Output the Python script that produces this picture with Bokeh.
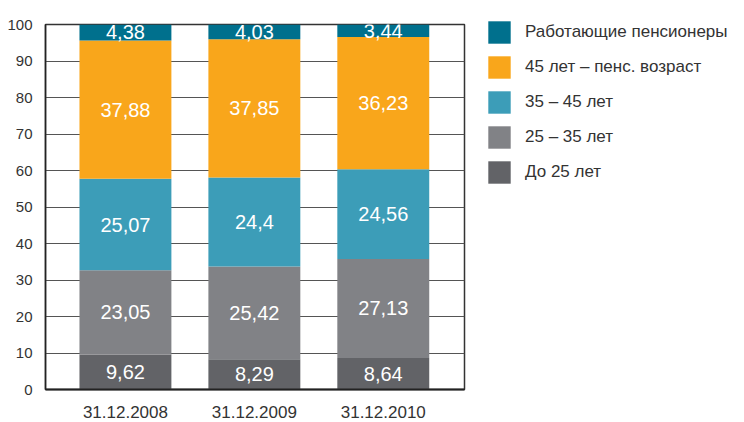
from bokeh.plotting import figure
from bokeh.models import ColumnDataSource, Legend, LegendItem, FixedTicker, Range1d
from bokeh.core.properties import value
from bokeh.embed import file_html
from bokeh.resources import INLINE

categories = ["31.12.2008", "31.12.2009", "31.12.2010"]
series_names = ["До 25 лет", "25 – 35 лет", "35 – 45 лет", "45 лет – пенс. возраст", "Работающие пенсионеры"]
do25 = [9.62, 8.29, 8.64]
s25_35 = [23.05, 25.42, 27.13]
s35_45 = [25.07, 24.4, 24.56]
s45_pens = [37.88, 37.85, 36.23]
working = [4.38, 4.03, 3.44]
colors = ["#626367", "#818286", "#3C9DB8", "#F9A61B", "#00708D"]
y_ticks = [0, 10, 20, 30, 40, 50, 60, 70, 80, 90, 100]

FONT = "Liberation Sans"
keys = ["s0", "s1", "s2", "s3", "s4"]
series = [do25, s25_35, s35_45, s45_pens, working]
xs = list(range(len(categories)))
data = {"x": xs}
for k, s in zip(keys, series):
    data[k] = s
src = ColumnDataSource(data)

p = figure(width=744, height=422, frame_width=419, frame_height=365,
           min_border_left=45, min_border_top=24, min_border_bottom=33, min_border_right=20,
           output_backend="svg", toolbar_location=None,
           x_range=Range1d(-0.62, 2.63), y_range=Range1d(0, 100))

renderers = p.vbar_stack(keys, x="x", width=0.713, color=colors, source=src, line_color=None)

# segment labels
lx, ly, lt = [], [], []
for i in xs:
    base = 0.0
    for s in series:
        v = s[i]
        lx.append(i)
        ly.append(base + v / 2)
        lt.append(f"{v:g}".replace(".", ","))
        base += v
lsrc = ColumnDataSource(dict(x=lx, y=ly, t=lt))
p.text(x="x", y="y", text="t", source=lsrc, text_color="white", text_align="center",
       text_baseline="middle", text_font=value(FONT), text_font_size="20px")

# axes
p.yaxis.ticker = FixedTicker(ticks=y_ticks)
p.xaxis.ticker = FixedTicker(ticks=xs)
p.xaxis.major_label_overrides = {i: c for i, c in enumerate(categories)}
for ax in (p.xaxis, p.yaxis):
    ax.major_tick_line_color = None
    ax.minor_tick_line_color = None
    ax.axis_line_color = "#222222"
    ax.major_label_text_font = FONT
    ax.major_label_text_color = "#333333"
p.yaxis.major_label_text_font_size = "15px"
p.xaxis.major_label_text_font_size = "17px"
p.xaxis.axis_line_width = 2
p.yaxis.axis_line_width = 1.5
p.yaxis.major_label_standoff = 7
p.xaxis.major_label_standoff = 10
p.xgrid.grid_line_color = None
p.ygrid.ticker = FixedTicker(ticks=y_ticks)
p.ygrid.grid_line_color = "#555555"
p.ygrid.grid_line_width = 1
p.outline_line_color = "#333333"
p.outline_line_width = 1.5

items = [LegendItem(label=series_names[i], renderers=[renderers[i]]) for i in reversed(range(5))]
legend = Legend(items=items, location=(21, 203), padding=0, margin=0,
                border_line_color=None, background_fill_alpha=0,
                glyph_width=28, glyph_height=28, label_height=28, spacing=7,
                label_standoff=12, label_text_font=FONT, label_text_font_size="17px",
                label_text_color="#333333")
p.add_layout(legend, "right")

open("out.html", "w").write(file_html(p, INLINE))
